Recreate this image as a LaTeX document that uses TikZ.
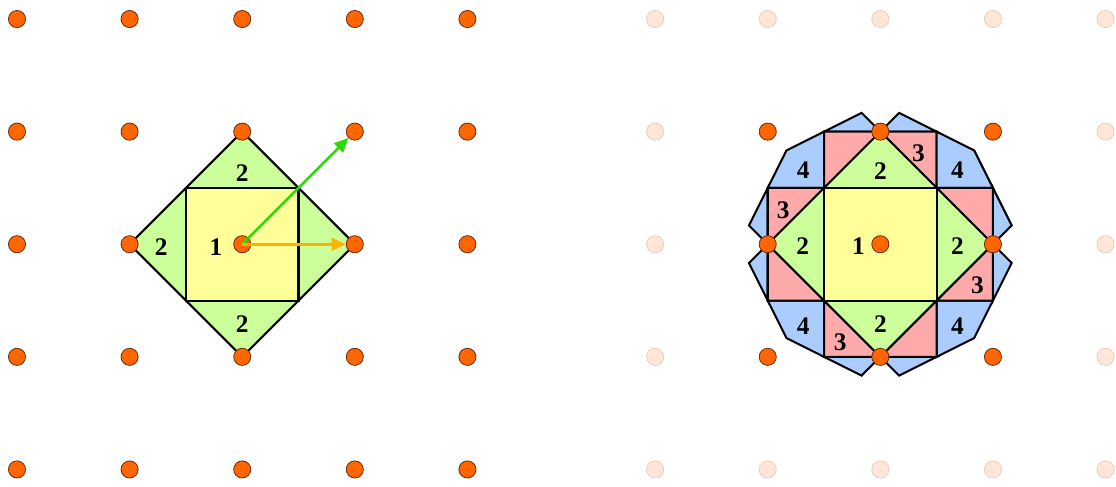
\documentclass[tikz,border=0pt]{standalone}
\usepackage{fontspec}
\setmainfont{Liberation Serif}
\usetikzlibrary{arrows.meta,positioning}
\definecolor{dotorange}{RGB}{255,102,0}
\definecolor{dotedge}{RGB}{110,40,10}
\definecolor{dotpale}{RGB}{255,230,215}
\definecolor{paleedge}{RGB}{232,205,192}
\definecolor{zoneyellow}{RGB}{255,255,153}
\definecolor{zonegreen}{RGB}{204,255,153}
\definecolor{zonered}{RGB}{255,170,170}
\definecolor{zoneblue}{RGB}{170,204,255}
\definecolor{vecgreen}{RGB}{40,220,0}
\definecolor{vecamber}{RGB}{250,180,0}

\begin{document}
\begin{tikzpicture}[
  x=2.5cm, y=2.5cm,
  site/.style={circle, draw=dotedge, fill=dotorange, line width=0.5pt,
    minimum size=0.38cm, inner sep=0pt},
  ghost/.style={circle, draw=paleedge, fill=dotpale, line width=0.5pt,
    minimum size=0.38cm, inner sep=0pt},
  zone/.style={draw=black, line width=1.3pt},
  num/.style={font=\bfseries\fontsize{16}{16}\selectfont, inner sep=0pt},
  vec/.style={-{Triangle[length=9pt, width=8pt]}, line width=1.6pt},
]

% ===== Overall dimensions =====
% lattice spacing = 1 unit; left lattice x in [0,4], right lattice x in [5.667,9.667]
\useasboundingbox (-0.151,0.169) rectangle (9.760,-4.151);

%% ---- LEFT: first and second zones ----
\begin{scope}[shift={(2,-2)}]
  \fill[zonegreen, zone] (-1,0) -- (0,1) -- (1,0) -- (0,-1) -- cycle;
  \fill[zoneyellow, zone] (-0.5,-0.5) rectangle (0.5,0.5);
\end{scope}

%% ---- RIGHT: zones 1 to 4 ----
\begin{scope}[shift={(7.667,-2)}]
  \foreach \r in {0,90,180,270} {
    \begin{scope}[rotate=\r]
      % zone 4
      \fill[zoneblue, zone] (-0.5,0.5) -- (-0.5,1) -- (-5/6,5/6) -- (-1,0.5) -- cycle;
      \fill[zoneblue, zone] (-0.5,1) -- (-1/6,7/6) -- (0,1) -- cycle;
      \fill[zoneblue, zone] (0,1) -- (1/6,7/6) -- (0.5,1) -- cycle;
      % zone 3
      \fill[zonered, zone] (-0.5,0.5) -- (-0.5,1) -- (0,1) -- cycle;
      \fill[zonered, zone] (0,1) -- (0.5,1) -- (0.5,0.5) -- cycle;
    \end{scope}
  }
  % zone 2
  \fill[zonegreen, zone] (-1,0) -- (0,1) -- (1,0) -- (0,-1) -- cycle;
  % zone 1
  \fill[zoneyellow, zone] (-0.5,-0.5) rectangle (0.5,0.5);
\end{scope}

%% ---- Lattice points ----
\foreach \i in {0,...,4}
  \foreach \j in {0,...,4}
    \node[site] (L-\i-\j) at (\i,-\j) {};

\foreach \i in {0,...,4}
  \foreach \j in {0,...,4} {
    \pgfmathtruncatemacro\isinner{(\i>0)*(\i<4)*(\j>0)*(\j<4)}
    \ifnum\isinner=1
      \node[site] (R-\i-\j) at (5.667+\i,-\j) {};
    \else
      \node[ghost] (R-\i-\j) at (5.667+\i,-\j) {};
    \fi
  }

%% ---- Zone numbers, left ----
\node[num] (l1)  at (1.766,-2.03) {1};
\node[num] (l2t) at (2,-1.37) {2};
\node[num] (l2l) at (1.28,-2.03) {2};
\node[num] (l2b) at (2,-2.71) {2};

%% ---- Zone numbers, right ----
\node[num] (r1)  at (7.472,-2.02) {1};
\node[num] (r2t) at (7.667,-1.35) {2};
\node[num] (r2l) at (6.977,-2.02) {2};
\node[num] (r2r) at (8.351,-2.02) {2};
\node[num] (r2b) at (7.667,-2.71) {2};
\node[num] (r3t) at (8.005,-1.19) {3};
\node[num] (r3l) at (6.805,-1.70) {3};
\node[num] (r3r) at (8.529,-2.36) {3};
\node[num] (r3b) at (7.311,-2.87) {3};
\node[num] (r4a) at (6.983,-1.34) {4};
\node[num] (r4b) at (8.351,-1.34) {4};
\node[num] (r4c) at (6.983,-2.73) {4};
\node[num] (r4d) at (8.351,-2.73) {4};

%% ---- Lattice vectors ----
\draw[vec, vecgreen] (L-2-2.center) -- (L-3-1);
\draw[vec, vecamber] (L-2-2.center) -- (L-3-2);

\end{tikzpicture}
\end{document}
